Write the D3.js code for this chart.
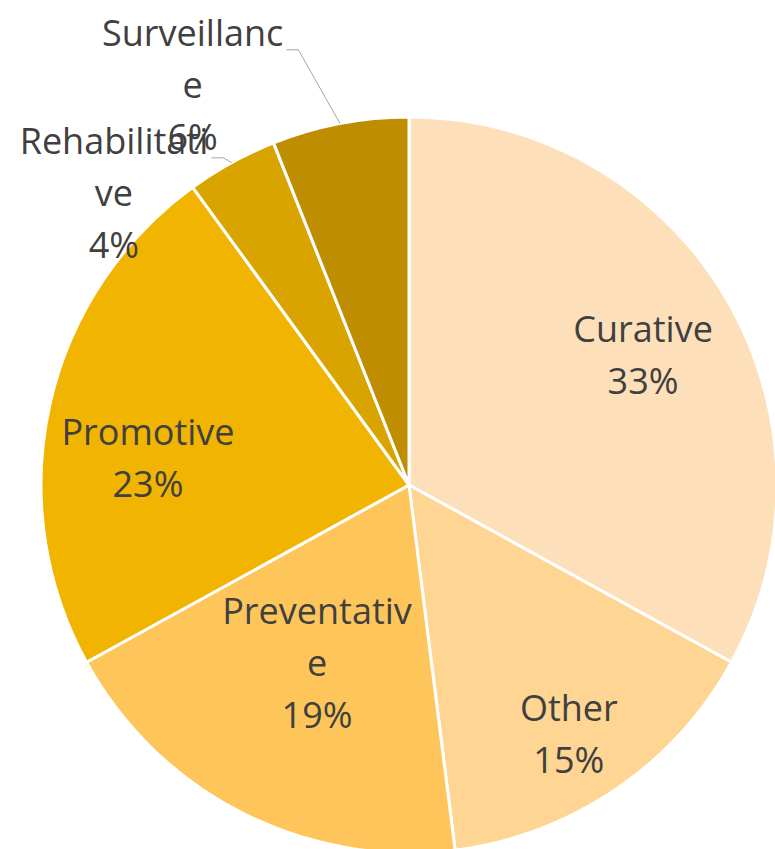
<!DOCTYPE html>
<html>
<head>
<meta charset="utf-8">
<script src="https://cdn.jsdelivr.net/npm/d3@7"></script>
<style>
  html, body { margin: 0; padding: 0; background: #ffffff; }
  svg { display: block; }
</style>
</head>
<body>
<svg id="chart" width="775" height="849"></svg>
<script>
// Share of activity by service type (percent)
const categories = ["Curative", "Other", "Preventative", "Promotive", "Rehabilitative", "Surveillance"];
const values = [33, 15, 19, 23, 4, 6];
// Wrapped label lines as they appear in each data label
const labelLines = [
  ["Curative", "33%"],
  ["Other", "15%"],
  ["Preventativ", "e", "19%"],
  ["Promotive", "23%"],
  ["Rehabilitati", "ve", "4%"],
  ["Surveillanc", "e", "6%"]
];
const colors = ["#FDE0BA", "#FED592", "#FEC65A", "#F1B400", "#D9A300", "#BE8E00"];

// Label placement: polar angle (deg, clockwise from 12 o'clock) and radius as a fraction of the pie radius
const labelPolar = [
  [60.9, 0.728], [147.3, 0.804], [207.3, 0.545],
  [275.9, 0.713], [314.7, 1.128], [331.6, 1.236]
];
const outsideLabels = [false, false, false, false, true, true];

const W = 775, H = 849;
const cx = 409, cy = 485, R = 368;
const fontSize = 36, lineGap = 52;
const capHalf = fontSize * 0.357;

const svg = d3.select("#chart");
const g = svg.append("g").attr("transform", `translate(${cx},${cy})`);

const data = categories.map((c, i) => ({ name: c, value: values[i], i }));
const pie = d3.pie().value(d => d.value).sort(null);
const arc = d3.arc().innerRadius(0).outerRadius(R);
const arcs = pie(data);

g.selectAll("path.slice")
  .data(arcs)
  .join("path")
  .attr("class", "slice")
  .attr("d", arc)
  .attr("fill", d => colors[d.data.i])
  .attr("stroke", "#ffffff")
  .attr("stroke-width", 3)
  .attr("stroke-linejoin", "round");

function labelPos(i) {
  const [ang, f] = labelPolar[i];
  const a = ang * Math.PI / 180;
  return [Math.sin(a) * R * f, -Math.cos(a) * R * f];
}

// Data labels
const labels = g.selectAll("g.label")
  .data(arcs)
  .join("g")
  .attr("class", "label")
  .attr("transform", d => {
    const [lx, ly] = labelPos(d.data.i);
    return `translate(${lx},${ly})`;
  });

labels.each(function(d) {
  const lines = labelLines[d.data.i];
  const n = lines.length;
  const t = d3.select(this).append("text")
    .attr("text-anchor", "middle")
    .attr("font-family", "'Open Sans', 'Noto Sans', sans-serif")
    .attr("font-size", fontSize)
    .style("font-variant-ligatures", "none")
    .attr("fill", "#404040");
  lines.forEach((ln, k) => {
    t.append("tspan")
      .attr("x", 0)
      .attr("y", (k - (n - 1) / 2) * lineGap + capHalf)
      .text(ln);
  });
});

// Leader lines for labels placed outside the pie
labels.filter(d => outsideLabels[d.data.i]).each(function(d) {
  const node = d3.select(this);
  const [lx, ly] = labelPos(d.data.i);
  const w = node.select("tspan").node().getComputedTextLength();
  const n = labelLines[d.data.i].length;
  const baseY = ly - (n - 1) / 2 * lineGap + capHalf;
  const x0 = lx + w / 2 + 3, y0 = baseY + 4;
  const mid = (d.startAngle + d.endAngle) / 2;
  const ex = Math.sin(mid) * R, ey = -Math.cos(mid) * R;
  const kx = x0 + 12, ky = y0;
  g.append("polyline")
    .attr("points", `${x0},${y0} ${kx},${ky} ${ex},${ey}`)
    .attr("fill", "none")
    .attr("stroke", "#A6A6A6")
    .attr("stroke-width", 1);
});
</script>
</body>
</html>
